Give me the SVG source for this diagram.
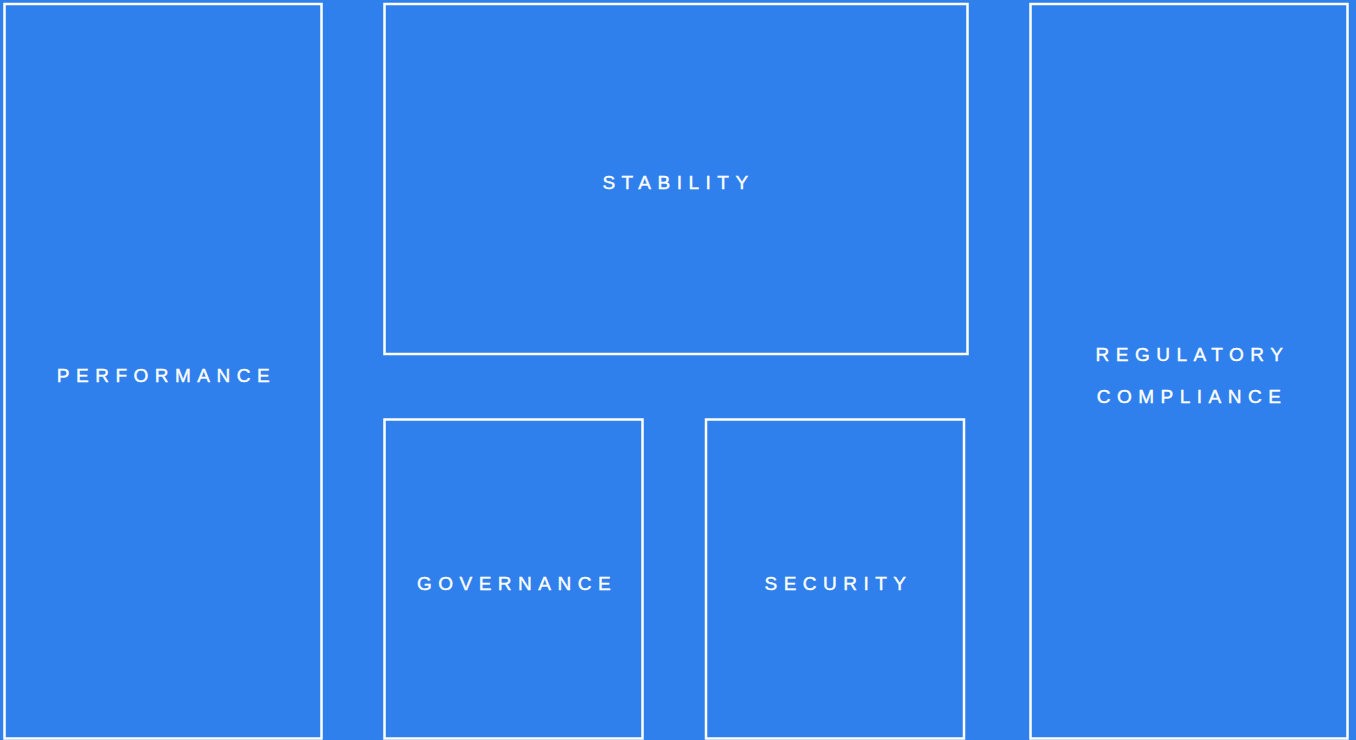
<svg xmlns="http://www.w3.org/2000/svg" width="1356" height="740" viewBox="0 0 1356 740">
<style>
.box{fill:#2F80EC;stroke:#FFFFFF;stroke-width:2.5}
.lbl{font-family:"Liberation Sans",Arial,sans-serif;font-size:19px;fill:#FFFFFF;stroke:#FFFFFF;stroke-width:0.4;letter-spacing:6.5px;text-anchor:middle}
</style>
<rect x="0" y="0" width="1356" height="740" fill="#2F80EC"/>
<g id="performance">
<rect class="box" x="4.5" y="4" width="317" height="734.5"/>
<text class="lbl" x="166.5" y="382">PERFORMANCE</text>
</g>
<g id="stability">
<rect class="box" x="384.5" y="4" width="583" height="350"/>
<text class="lbl" x="678.5" y="189">STABILITY</text>
</g>
<g id="governance">
<rect class="box" x="384.5" y="419.5" width="258" height="319"/>
<text class="lbl" x="517" y="590">GOVERNANCE</text>
</g>
<g id="security">
<rect class="box" x="706" y="419.5" width="258" height="319"/>
<text class="lbl" x="838.5" y="590">SECURITY</text>
</g>
<g id="regulatory-compliance">
<rect class="box" x="1030.5" y="4" width="317" height="734.5"/>
<text class="lbl" x="1192.5" y="361">REGULATORY</text>
<text class="lbl" x="1192" y="403">COMPLIANCE</text>
</g>
<g id="connectors"></g>
</svg>
